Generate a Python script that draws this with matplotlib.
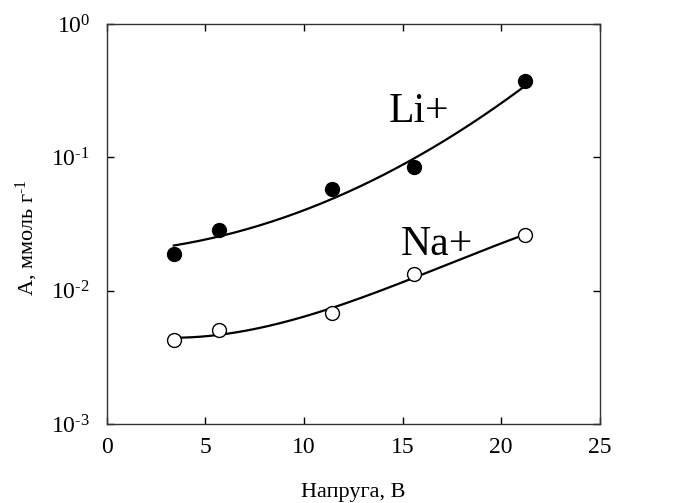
import numpy as np
import matplotlib
matplotlib.use("Agg")
import matplotlib.pyplot as plt

plt.rcParams['font.family'] = ['Liberation Serif', 'DejaVu Serif']
plt.rcParams['mathtext.fontset'] = 'custom'
plt.rcParams['mathtext.rm'] = 'Liberation Serif'
plt.rcParams['mathtext.it'] = 'Liberation Serif:italic'

x_pts = [3.4, 5.7, 11.4, 15.6, 21.2]
li_vals = [0.0188, 0.0285, 0.0578, 0.0846, 0.373]
na_vals = [0.00426, 0.00507, 0.00679, 0.0133, 0.0261]

# fitted trend-curve values read at the same x positions
li_fit = [0.0224, 0.0249, 0.047, 0.104, 0.337]
na_fit = [0.00426, 0.00507, 0.00679, 0.0133, 0.0261]

x_ticks = [0, 5, 10, 15, 20, 25]
y_ticks = [1e-3, 1e-2, 1e-1, 1e0]
y_tick_labels = ['10$^{\\text{-3}}$', '10$^{\\text{-2}}$',
                 '10$^{\\text{-1}}$', '10$^{\\text{0}}$']

fig = plt.figure(figsize=(6.8, 5.03), dpi=100)
ax = fig.add_axes([0.157, 0.157, 0.725, 0.795])

xs = np.linspace(min(x_pts), max(x_pts), 200)
for fit, deg in ((li_fit, 2), (na_fit, 3)):
    c = np.polyfit(x_pts, np.log10(fit), deg)
    ax.plot(xs, 10 ** np.polyval(c, xs), color='black', lw=1.6, zorder=2)

ax.plot(x_pts, li_vals, 'o', ms=10, mfc='black', mec='black', zorder=3)
ax.plot(x_pts, na_vals, 'o', ms=10, mfc='white', mec='black', mew=1.0, zorder=3)

ax.set_yscale('log')
ax.set_xlim(0, 25)
ax.set_ylim(1e-3, 1)
ax.set_xticks(x_ticks)
ax.set_xticklabels([str(t) for t in x_ticks], fontsize=17)
ax.set_yticks(y_ticks)
ax.set_yticklabels(y_tick_labels, fontsize=17)
ax.yaxis.set_minor_locator(matplotlib.ticker.NullLocator())
ax.tick_params(which='major', direction='in', length=5, width=1,
               top=True, right=True, colors='black')
ax.tick_params(axis='x', pad=9)
ax.tick_params(axis='y', pad=12)
for s in ax.spines.values():
    s.set_linewidth(1.0)
    s.set_color('#333333')

ax.set_xlabel('Напруга, В', fontsize=16, labelpad=18)
ax.set_ylabel('A, ммоль г$^{\\text{-1}}$', fontsize=16)
ax.yaxis.set_label_coords(-0.135, 0.466)

ax.text(14.3, 0.22, 'Li+', fontsize=30, ha='left', va='center')
ax.text(14.9, 0.022, 'Na+', fontsize=30, ha='left', va='center')

fig.savefig('out.png', dpi=100)
